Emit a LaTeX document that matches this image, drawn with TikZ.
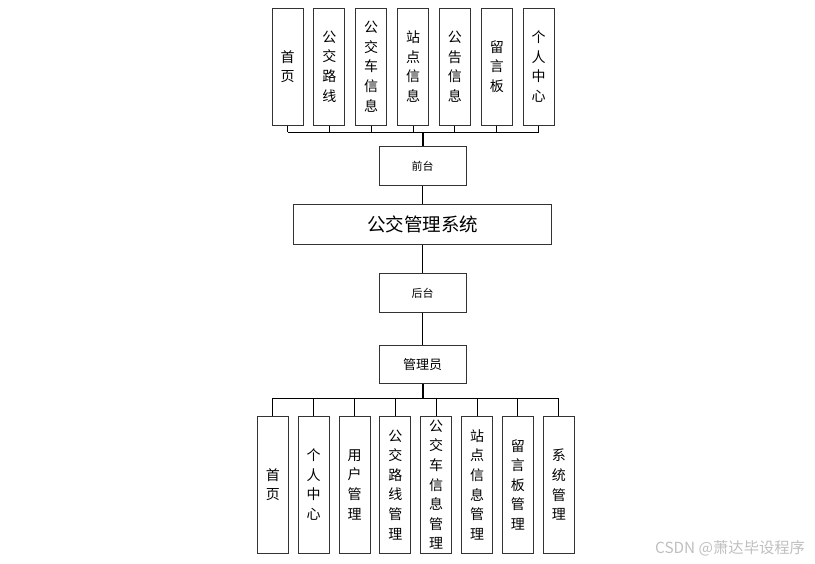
\documentclass[tikz,border=0pt]{standalone}
\usepackage{fontspec}
\newfontfamily\cjk{Noto Sans CJK SC}
\begin{document}
\begin{tikzpicture}[x=1pt,y=-1pt,
  box/.style={draw=black!80,line width=1pt,fill=white,inner sep=0pt,align=center},
  vbox/.style={box,minimum width=31pt,font={\fontsize{14}{19.6}\selectfont\cjk}},
  topbox/.style={vbox,minimum height=117pt},
  botbox/.style={vbox,minimum height=137pt},
  hbox/.style={box,minimum width=87pt,minimum height=38.5pt},
  conn/.style={draw=black,line width=1pt},
  trunk/.style={draw=black,line width=2pt}]
\useasboundingbox (0,0) rectangle (815,563);
% top row
\foreach \t [count=\i from 0] in {首\\页,公\\交\\路\\线,公\\交\\车\\信\\息,站\\点\\信\\息,公\\告\\信\\息,留\\言\\板,个\\人\\中\\心}{
  \node[topbox] (t\i) at ({287.5+41.85*\i},66.5) {\t};
}
\coordinate (tb) at (422.7,132);
\node[hbox,font={\fontsize{11}{13}\selectfont\cjk}] (qt) at (422.7,166) {前台};
\node[box,minimum width=258.5pt,minimum height=39.5pt,font={\fontsize{18.5}{22}\selectfont\cjk}] (sys) at (422.5,224.7) {公交管理系统};
\node[hbox,font={\fontsize{11}{13}\selectfont\cjk}] (ht) at (422.5,293) {后台};
\node[hbox,font={\fontsize{13}{15}\selectfont\cjk}] (gly) at (422.5,364.7) {管理员};
\coordinate (bb) at (422.5,398.3);
% bottom row
\foreach \t [count=\i from 0] in {首\\页,个\\人\\中\\心,用\\户\\管\\理,公\\交\\路\\线\\管\\理,公\\交\\车\\信\\息\\管\\理,站\\点\\信\\息\\管\\理,留\\言\\板\\管\\理,系\\统\\管\\理}{
  \node[botbox] (b\i) at ({272.8+40.86*\i},484.7) {\t};
}
% top connectors
\foreach \i in {0,...,6}{ \draw[conn] (t\i.south) -- (t\i.south |- tb); }
\draw[conn] (t0.south |- tb) -- (t6.south |- tb);
\draw[trunk] (tb) -- (qt.north);
\draw[conn] (qt.south) -- (sys.north -| qt.south);
\draw[conn] (sys.south -| ht.north) -- (ht.north);
\draw[conn] (ht.south) -- (gly.north);
\draw[trunk] (gly.south) -- (bb);
\foreach \i in {0,...,7}{ \draw[conn] (b\i.north) -- (b\i.north |- bb); }
\draw[conn] (b0.north |- bb) -- (b7.north |- bb);
\node[anchor=west,text=black!25,font={\fontsize{15.3}{17}\selectfont\cjk},inner sep=0pt] (wm) at (655,548) {CSDN @萧达毕设程序};
\end{tikzpicture}
\end{document}
